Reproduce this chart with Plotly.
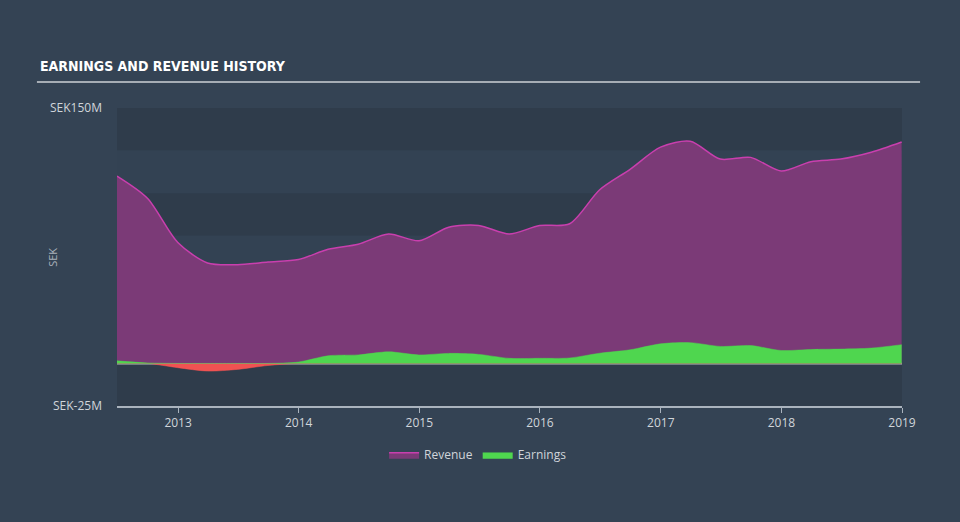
import plotly.graph_objects as go

dates = ["2012-06-30", "2012-09-30", "2012-12-31", "2013-03-31", "2013-06-30", "2013-09-30",
         "2013-12-31", "2014-03-31", "2014-06-30", "2014-09-30", "2014-12-31", "2015-03-31",
         "2015-06-30", "2015-09-30", "2015-12-31", "2016-03-31", "2016-06-30", "2016-09-30",
         "2016-12-31", "2017-03-31", "2017-06-30", "2017-09-30", "2017-12-31", "2018-03-31",
         "2018-06-30", "2018-09-30", "2018-12-31"]
revenue = [110, 97, 71, 59, 58, 59.5, 61, 67, 70, 76, 72, 80, 81, 76, 81, 82, 102, 114,
           127, 130.5, 120, 121, 113, 118.5, 120, 124, 130]
earnings = [1.5, 0.3, -2.5, -4.5, -3.5, -1.2, 0.8, 4.5, 5, 6.8, 5, 5.9, 5.3, 3, 3, 3.2,
            6, 8, 11.5, 12.2, 10, 10.5, 7.6, 8.2, 8.4, 9, 11]
y_ticks = [-25, 150]
y_tick_labels = ["SEK-25M", "SEK150M"]
x_ticks = ["2013-01-01", "2014-01-01", "2015-01-01", "2016-01-01", "2017-01-01",
           "2018-01-01", "2019-01-01"]
x_tick_labels = ["2013", "2014", "2015", "2016", "2017", "2018", "2019"]

BG = "#344354"
LIGHT = "#334253"
DARK = "#2f3c4b"
TXT = "#d0d5da"

earn_pos = [max(v, 0) for v in earnings]
earn_neg = [min(v, 0) for v in earnings]

fig = go.Figure()
fig.add_trace(go.Scatter(x=dates, y=revenue, name="Revenue", mode="lines",
                         line=dict(color="#c93fae", width=1.5, shape="spline", smoothing=0.8),
                         fill="tozeroy", fillcolor="#7b3a77"))
fig.add_trace(go.Scatter(x=dates, y=earn_neg, name="Earnings (neg)", mode="lines",
                         showlegend=False,
                         line=dict(color="#f05252", width=0.5, shape="spline", smoothing=0.8),
                         fill="tozeroy", fillcolor="#f05252"))
fig.add_trace(go.Scatter(x=dates, y=earn_pos, name="Earnings", mode="lines",
                         line=dict(color="#4fd64f", width=0.5, shape="spline", smoothing=0.8),
                         fill="tozeroy", fillcolor="#4fd64f"))

shapes = []
lo, hi = y_ticks
step = 25
v = hi
i = 0
while v > lo:
    shapes.append(dict(type="rect", xref="paper", x0=0, x1=1, yref="y", y0=v - step, y1=v,
                       fillcolor=DARK if i % 2 == 0 else LIGHT, line=dict(width=0),
                       layer="below"))
    v -= step
    i += 1
# zero line
shapes.append(dict(type="line", xref="paper", x0=0, x1=1, yref="y", y0=0, y1=0,
                   line=dict(color="#b8bcc0", width=2), layer="below"))
# title underline
shapes.append(dict(type="line", xref="paper", yref="paper", x0=-0.102, x1=1.023,
                   y0=1.087, y1=1.087, line=dict(color="#a6adb5", width=2)))

fig.update_layout(
    width=960, height=522,
    paper_bgcolor=BG, plot_bgcolor=BG,
    margin=dict(l=117, r=58, t=108, b=116),
    shapes=shapes,
    showlegend=True,
    legend=dict(orientation="h", x=0.46, xanchor="center", y=-0.115, yanchor="top",
                font=dict(family="Open Sans", size=12, color=TXT), itemwidth=30,
                bgcolor="rgba(0,0,0,0)"),
    font=dict(family="Open Sans", color=TXT),
    annotations=[
        dict(text="<b>EARNINGS AND REVENUE HISTORY</b>", xref="paper", yref="paper",
             x=-0.101, y=1.108, xanchor="left", yanchor="bottom", showarrow=False,
             font=dict(family="DejaVu Sans Condensed, Liberation Sans Narrow", size=14,
                       color="#ffffff")),
        dict(text="SEK", xref="paper", yref="paper", x=-0.083, y=0.5, xanchor="center",
             yanchor="middle", textangle=-90, showarrow=False,
             font=dict(family="Open Sans", size=11, color="#aab2bb")),
    ],
    xaxis=dict(type="date", range=["2012-06-30", "2019-01-01"], tickvals=x_ticks,
               ticktext=x_tick_labels, showgrid=False, zeroline=False, showline=True,
               linecolor="#aab3bd", linewidth=1.5, ticks="outside", ticklen=5,
               tickcolor="#aab3bd", tickfont=dict(size=12, color=TXT, family="Open Sans")),
    yaxis=dict(range=[lo, hi], tickvals=y_ticks, ticktext=y_tick_labels, showgrid=False,
               zeroline=False, showline=False, ticks="", ticklabelstandoff=14,
               tickfont=dict(size=12, color=TXT, family="Open Sans")),
)

fig.write_html("out.html")
